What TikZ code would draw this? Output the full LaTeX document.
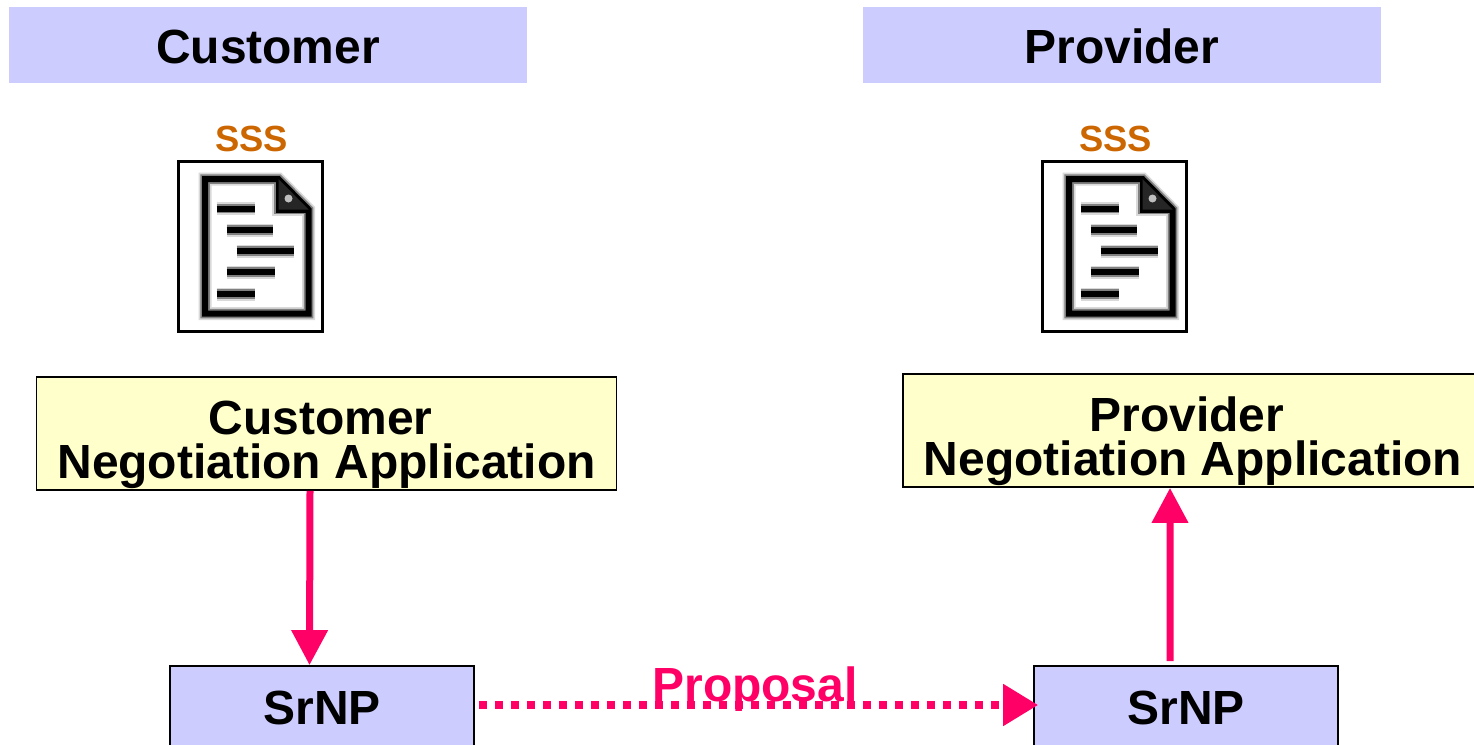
\documentclass[tikz,border=0pt]{standalone}
\usepackage{fontspec}
\setmainfont{Liberation Sans}
\usetikzlibrary{arrows, arrows.meta}
\definecolor{lavender}{HTML}{CCCCFF}
\definecolor{paleyellow}{HTML}{FFFFCC}
\definecolor{flowpink}{HTML}{FF0066}
\definecolor{sssorange}{HTML}{CC6600}
\newcommand{\appstrut}{\rule{0pt}{32pt}}
\newcommand{\appshift}{\hspace*{.24cm}}
\tikzset{
  banner/.style={fill=lavender, minimum width=10.36cm, minimum height=1.52cm, text height=21pt, font=\fontsize{27.3}{27}\selectfont\bfseries},
  appbox/.style={draw, line width=1pt, fill=paleyellow, minimum width=11.6cm, minimum height=2.26cm, align=center, inner sep=0pt, font=\fontsize{27.3}{25.5}\selectfont\bfseries},
  srnpbox/.style={draw, line width=1pt, fill=lavender, minimum width=6.08cm, minimum height=1.68cm, font=\fontsize{27.3}{27}\selectfont\bfseries},
  ssslabel/.style={text=sssorange, font=\fontsize{20.7}{20.7}\selectfont\bfseries},
  docframe/.style={draw, line width=1.2pt, fill=white, minimum width=2.88cm, minimum height=3.4cm},
  flow/.style={flowpink, line width=.14cm, -{Triangle[length=.7cm, width=.7cm]}},
  dotflow/.style={flowpink, line width=.16cm, dash pattern=on .16cm off .16cm, -{Triangle[length=.7cm, width=.8cm]}},
  docicon/.pic={
    \foreach \w/\c in {.26cm/black!15, .19cm/black!50, .12cm/black}{
      \draw[line width=\w, \c, line join=miter] (-45.5,-67.5) -- (28,-67.5) -- (58,-37) -- (58,67) -- (-45.5,67) -- cycle;
      \draw[line width=\w, \c] (28,-67.5) -- (28,-37) -- (58,-37);
      \draw[line width=\w, \c] (-34,-38) -- (4.5,-38);
      \draw[line width=\w, \c] (-24,-16.5) -- (22.5,-16.5);
      \draw[line width=\w, \c] (-14,4.5) -- (43,4.5);
      \draw[line width=\w, \c] (-24,25.5) -- (24,25.5);
      \draw[line width=\w, \c] (-34,47.5) -- (4.5,47.5);
    }
    \fill[black!85] (28,-67.5) -- (58,-37) -- (28,-37) -- cycle;
    \fill[black!25] (38,-48) circle (4);
  }
}

\begin{document}
\begin{tikzpicture}[x=.02cm, y=-.02cm]
  \clip (0,0) rectangle (1474,744);

  \node[banner] (custbanner) at (268,45) {Customer};
  \node[banner] (provbanner) at (1122,45) {Provider};

  \node[ssslabel] (custsss) at (251.5,139) {SSS};
  \node[ssslabel] (provsss) at (1115.5,139) {SSS};

  \node[docframe] (custdoc) at (250.5,246.5) {};
  \node[docframe] (provdoc) at (1114.5,246.5) {};
  \pic at (custdoc.center) {docicon};
  \pic at (provdoc.center) {docicon};

  \node[appbox] (custapp) at (326.5,433.5) {\appstrut Customer\appshift\\Negotiation Application};
  \node[appbox] (provapp) at (1193,430.5) {\appstrut Provider\appshift\\Negotiation Application};

  \node[srnpbox] (custsrnp) at (322,708) {SrNP};
  \node[srnpbox] (provsrnp) at (1186,708) {SrNP};

  \node[anchor=base, text=flowpink, font=\fontsize{27.3}{27}\selectfont\bfseries] (proposal) at (755,701) {Proposal};

  \draw[flow] ([xshift=-.33cm]custapp.south) -- ([xshift=-.25cm]custsrnp.north);
  \draw[flow] ([xshift=-.32cm, yshift=.08cm]provsrnp.north) -- ([xshift=-.46cm]provapp.south);
  \draw[dotflow] ([xshift=.08cm, yshift=.06cm]custsrnp.east) -- ([xshift=.1cm, yshift=.06cm]provsrnp.west);
\end{tikzpicture}
\end{document}
